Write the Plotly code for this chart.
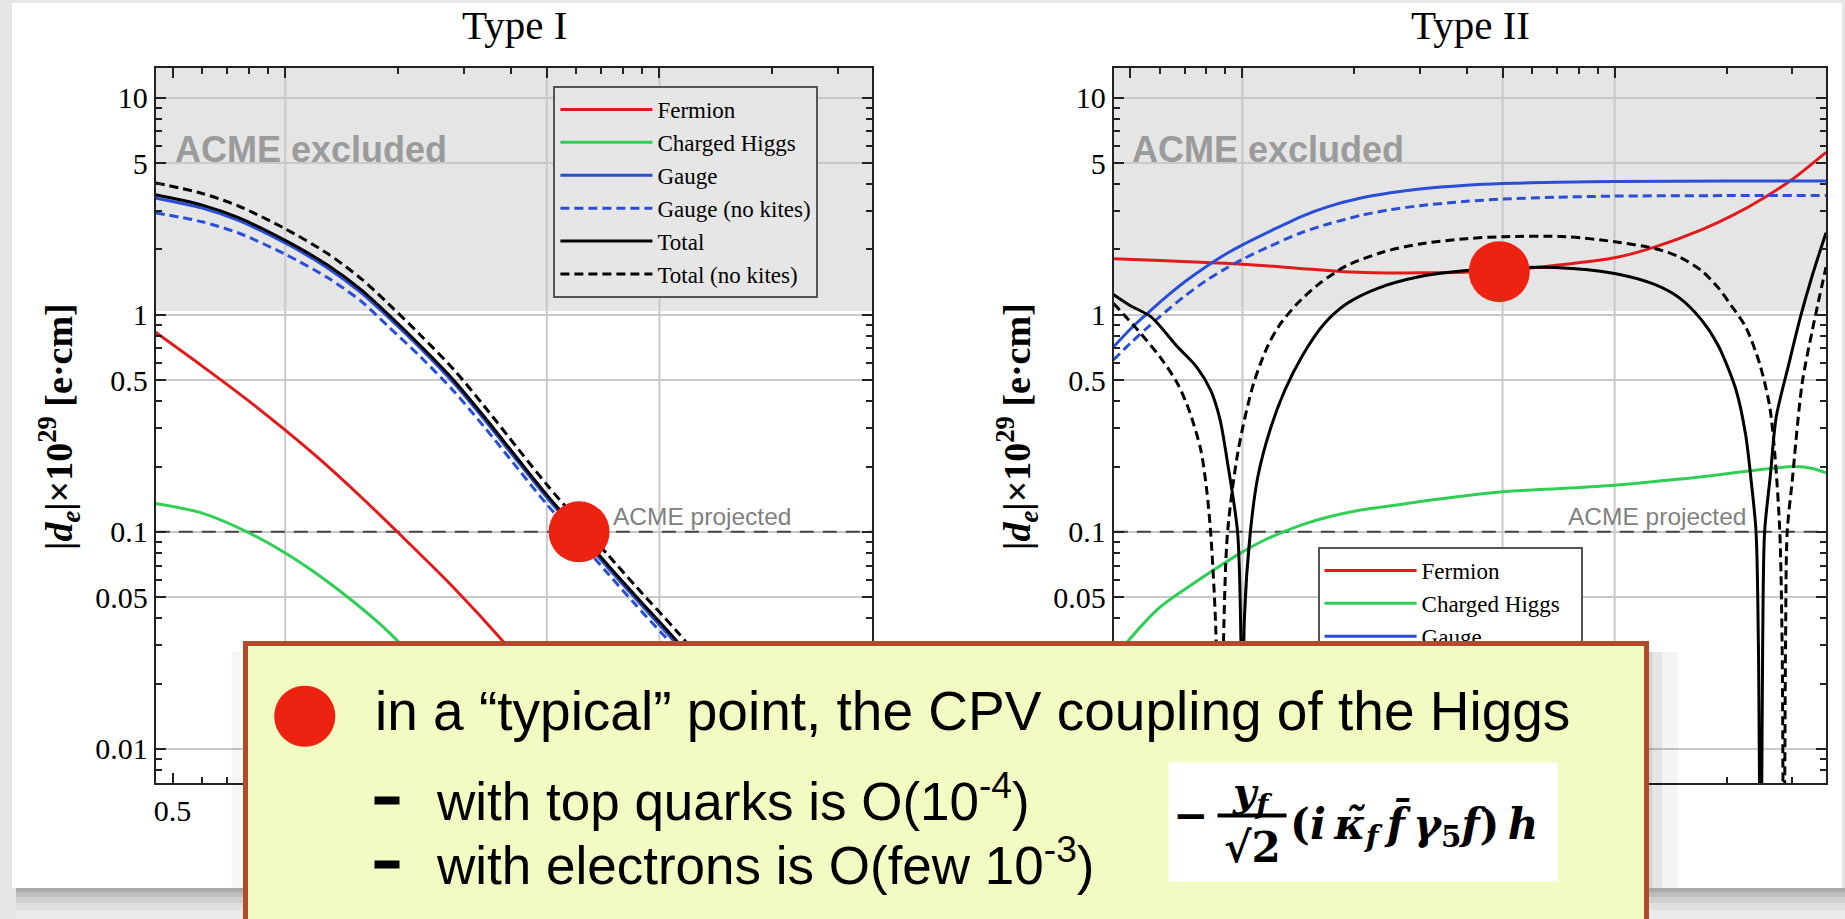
import numpy as np
import plotly.graph_objects as go

W, H = 1845, 919

# ---------------- data ----------------
# Type I
T1_X_TOTAL = [0.45, 0.6, 0.75, 1.0, 1.3, 1.6, 1.89, 2.3, 2.82, 3.4, 4.2, 5.0, 6.1, 7.3, 8.7, 11.2, 15, 20, 27, 37]
T1_TOTAL = [3.57, 3.2, 2.8, 2.2, 1.69, 1.3, 1.0, 0.72, 0.5, 0.34, 0.215, 0.148, 0.1, 0.07, 0.05, 0.031, 0.017, 0.0096, 0.0053, 0.0028]
T1_TOTAL_NOKITES = [4.05, 3.62, 3.17, 2.49, 1.91, 1.46, 1.12, 0.805, 0.56, 0.38, 0.24, 0.165, 0.111, 0.078, 0.0555, 0.0344, 0.0189, 0.0106, 0.0059, 0.0031]
T1_GAUGE = [3.45, 3.1, 2.72, 2.14, 1.64, 1.26, 0.97, 0.70, 0.485, 0.33, 0.209, 0.144, 0.097, 0.068, 0.0485, 0.030, 0.0165, 0.0093, 0.0051, 0.0027]
T1_GAUGE_NOKITES = [2.95, 2.68, 2.38, 1.9, 1.48, 1.15, 0.88, 0.64, 0.445, 0.305, 0.194, 0.134, 0.091, 0.064, 0.0455, 0.0283, 0.0156, 0.0088, 0.0048, 0.0026]
T1_X_FERMION = [0.45, 0.6, 0.8, 1.0, 1.26, 1.6, 2.03, 2.8, 3.84, 5.0, 7.0, 9.0]
T1_FERMION = [0.83, 0.58, 0.40, 0.294, 0.21, 0.144, 0.097, 0.056, 0.031, 0.018, 0.0093, 0.0055]
T1_X_CHARGED = [0.45, 0.6, 0.79, 1.0, 1.2, 1.47, 1.75, 2.03, 2.5, 3.0, 3.6]
T1_CHARGED = [0.135, 0.122, 0.10, 0.08, 0.065, 0.05, 0.039, 0.0305, 0.019, 0.011, 0.0062]
T1_POINT_X = [6.1]
T1_POINT_Y = [0.1]

# Type II
T2_X_FERMION = [0.45, 0.6, 0.8, 1.0, 1.4, 1.87, 3.0, 5.0, 7.4, 10, 12.8, 17.1, 21, 25.5, 30, 37]
T2_FERMION = [1.81, 1.78, 1.74, 1.71, 1.64, 1.58, 1.56, 1.6, 1.71, 1.83, 2.05, 2.46, 2.9, 3.5, 4.2, 5.6]
T2_X_CHARGED = [0.45, 0.49, 0.6, 0.74, 0.99, 1.15, 1.29, 1.45, 1.7, 2.08, 2.6, 3.0, 5.0, 7.0, 10, 15, 22, 27, 30.5, 34, 37]
T2_CHARGED = [0.025, 0.031, 0.045, 0.058, 0.08, 0.092, 0.1, 0.108, 0.117, 0.126, 0.133, 0.138, 0.153, 0.158, 0.164, 0.175, 0.189, 0.197, 0.2, 0.196, 0.187]
T2_X_GAUGE = [0.45, 0.5, 0.55, 0.62, 0.7, 0.8, 0.9, 1.0, 1.2, 1.45, 1.7, 2.08, 2.5, 3.0, 4.0, 5.0, 7.0, 10, 20, 37]
T2_GAUGE = [0.71, 0.86, 1.0, 1.2, 1.42, 1.67, 1.9, 2.1, 2.45, 2.85, 3.15, 3.45, 3.65, 3.8, 3.95, 4.02, 4.08, 4.11, 4.13, 4.13]
T2_X_GAUGE_NK = [0.45, 0.5, 0.55, 0.62, 0.7, 0.8, 0.9, 1.0, 1.17, 1.45, 1.7, 2.08, 2.5, 3.0, 4.0, 5.0, 7.0, 10, 20, 37]
T2_GAUGE_NOKITES = [0.62, 0.74, 0.86, 1.03, 1.22, 1.44, 1.63, 1.8, 2.05, 2.4, 2.62, 2.87, 3.05, 3.18, 3.33, 3.41, 3.48, 3.52, 3.54, 3.54]
T2_X_TOTAL = [0.45, 0.5, 0.567, 0.67, 0.75, 0.821, 0.87, 0.911, 0.97, 0.99, 1.0, 1.012, 1.05, 1.1, 1.19,
              1.3, 1.45, 1.65, 1.9, 2.3, 3.0, 4.0, 5.0, 6.9, 10, 12.8, 14.9, 17.1, 19.0, 21.2, 22.5, 23.3,
              24.0, 24.35, 24.7, 25.0, 25.3, 26.2, 27.2, 29.3, 31.6, 34, 37]
T2_TOTAL = [1.24, 1.1, 0.98, 0.71, 0.58, 0.45, 0.33, 0.21, 0.1, 0.033, 0.0015, 0.04, 0.1, 0.18, 0.3,
            0.45, 0.65, 0.9, 1.12, 1.32, 1.5, 1.6, 1.64, 1.65, 1.55, 1.38, 1.2, 0.95, 0.72, 0.45, 0.28, 0.17,
            0.1, 0.03, 0.0015, 0.03, 0.1, 0.18, 0.34, 0.58, 0.98, 1.52, 2.39]
T2_X_TOTAL_NK = [0.45, 0.523, 0.6, 0.67, 0.72, 0.772, 0.80, 0.821, 0.848, 0.868, 0.889, 0.912, 0.975,
                 1.07, 1.17, 1.26, 1.4, 1.6, 1.9, 2.4, 3.0, 4.0, 5.0, 7.4, 10, 12.8, 14.9, 17.1, 19.0,
                 20.6, 22.5, 24.5, 26.1, 27.0, 27.8, 28.2, 28.5, 28.8, 29.1, 30.0, 31.9, 34, 37]
T2_TOTAL_NOKITES = [1.13, 0.85, 0.64, 0.48, 0.36, 0.24, 0.16, 0.1, 0.035, 0.0015, 0.031, 0.1, 0.24,
                    0.48, 0.72, 0.9, 1.12, 1.38, 1.68, 1.95, 2.12, 2.24, 2.29, 2.29, 2.17, 2.02, 1.85, 1.6, 1.33,
                    1.1, 0.88, 0.6, 0.38, 0.22, 0.1, 0.03, 0.0015, 0.03, 0.1, 0.17, 0.48, 0.85, 1.66]
T2_POINT_X = [4.9]
T2_POINT_Y = [1.58]

# axes / labels
X_RANGE = [0.451, 37.0]
Y_RANGE = [0.00697, 13.7]
X_TICKS = [0.5, 1, 5, 10]
X_TICK_TEXT = ["0.5", "1", "5", "10"]
X_MINOR = [0.6, 0.7, 0.8, 0.9, 2, 3, 4, 6, 7, 8, 9, 20, 30]
X_GRID = [1, 5, 10]
Y_TICKS = [0.01, 0.05, 0.1, 0.5, 1, 5, 10]
Y_TICK_TEXT = ["0.01", "0.05", "0.1", "0.5", "1", "5", "10"]
Y_MINOR = [0.008, 0.009, 0.02, 0.03, 0.04, 0.06, 0.07, 0.08, 0.09, 0.2, 0.3, 0.4, 0.6, 0.7, 0.8, 0.9,
           2, 3, 4, 6, 7, 8, 9]
ACME_EXCLUDED_FROM = 1.04
ACME_PROJECTED = 0.1

RED, GREEN, BLUE, BLACK = "#e31a1c", "#2fcf55", "#2a4fd6", "#000000"
DOT = "#ee2211"
SERIF = "Liberation Serif"
SANS = "Liberation Sans"
MATH = "DejaVu Serif"

fig = go.Figure()

# ACME projected reference lines (drawn first, under the curves)
for xa, ya in [("x", "y"), ("x2", "y2")]:
    fig.add_trace(go.Scatter(x=X_RANGE, y=[ACME_PROJECTED, ACME_PROJECTED], mode="lines",
                             showlegend=False, hoverinfo="skip", xaxis=xa, yaxis=ya,
                             line=dict(color="#444444", width=2, dash="14px,9px")))


def curve(x, y, name, color, dash, rank, xa, ya, leg):
    fig.add_trace(go.Scatter(x=x, y=y, mode="lines", name=name,
                             line=dict(color=color, width=3, dash=dash, shape="spline", smoothing=0.8),
                             legendrank=rank, xaxis=xa, yaxis=ya, legend=leg,
                             hoverinfo="skip"))


DASH = "9px,5px"
for xa, ya, leg, d in [
    ("x", "y", "legend", dict(
        fer=(T1_X_FERMION, T1_FERMION), ch=(T1_X_CHARGED, T1_CHARGED),
        ga=(T1_X_TOTAL, T1_GAUGE), gank=(T1_X_TOTAL, T1_GAUGE_NOKITES),
        tot=(T1_X_TOTAL, T1_TOTAL), totnk=(T1_X_TOTAL, T1_TOTAL_NOKITES))),
    ("x2", "y2", "legend2", dict(
        fer=(T2_X_FERMION, T2_FERMION), ch=(T2_X_CHARGED, T2_CHARGED),
        ga=(T2_X_GAUGE, T2_GAUGE), gank=(T2_X_GAUGE_NK, T2_GAUGE_NOKITES),
        tot=(T2_X_TOTAL, T2_TOTAL), totnk=(T2_X_TOTAL_NK, T2_TOTAL_NOKITES))),
]:
    curve(*d["ch"], "Charged Higgs", GREEN, "solid", 2, xa, ya, leg)
    curve(*d["fer"], "Fermion", RED, "solid", 1, xa, ya, leg)
    curve(*d["gank"], "Gauge (no kites)", BLUE, DASH, 4, xa, ya, leg)
    curve(*d["ga"], "Gauge", BLUE, "solid", 3, xa, ya, leg)
    curve(*d["totnk"], "Total (no kites)", BLACK, DASH, 6, xa, ya, leg)
    curve(*d["tot"], "Total", BLACK, "solid", 5, xa, ya, leg)

for px_, py_, xa, ya in [(T1_POINT_X, T1_POINT_Y, "x", "y"), (T2_POINT_X, T2_POINT_Y, "x2", "y2")]:
    fig.add_trace(go.Scatter(x=px_, y=py_, mode="markers", showlegend=False, hoverinfo="skip",
                             marker=dict(size=61, color=DOT, line=dict(width=0)),
                             xaxis=xa, yaxis=ya))

AX = "#222222"
xcommon = dict(type="log", range=[np.log10(X_RANGE[0]), np.log10(X_RANGE[1])],
               tickmode="array", tickvals=X_TICKS, ticktext=X_TICK_TEXT,
               ticks="inside", ticklen=10, tickwidth=2, tickcolor=AX,
               showline=True, linecolor=AX, linewidth=2, mirror="allticks",
               showgrid=False, zeroline=False,
               tickfont=dict(family=SERIF, size=30, color="black"),
               minor=dict(tickmode="array", tickvals=X_MINOR, ticks="inside", ticklen=6,
                          tickwidth=1.5, tickcolor=AX, showgrid=False))
ycommon = dict(type="log", range=[np.log10(Y_RANGE[0]), np.log10(Y_RANGE[1])],
               tickmode="array", tickvals=Y_TICKS, ticktext=Y_TICK_TEXT,
               ticks="inside", ticklen=10, tickwidth=2, tickcolor=AX,
               showline=True, linecolor=AX, linewidth=2, mirror="allticks",
               showgrid=True, gridcolor="#c9c9c9", gridwidth=2, zeroline=False,
               tickfont=dict(family=SERIF, size=30, color="black"),
               minor=dict(tickmode="array", tickvals=Y_MINOR, ticks="inside", ticklen=6,
                          tickwidth=1.5, tickcolor=AX, showgrid=False))

TOP, BOT = 68, 783
shapes = []


def prect(x0, y0, x1, y1, color, layer="below", opacity=1.0):
    shapes.append(dict(type="rect", xref="paper", yref="paper", x0=x0 / W, x1=x1 / W,
                       y0=1 - y1 / H, y1=1 - y0 / H, fillcolor=color, line=dict(width=0),
                       layer=layer, opacity=opacity))


# slide card + its shadow
prect(10, 3, 1842, 888, "white")
for (a, b, c) in [(888, 892, "#a9a9a9"), (892, 897, "#bdbdbd"), (897, 903, "#d0d0d0"),
                  (903, 910, "#dfdfdf"), (910, 919, "#ebebeb")]:
    prect(14, a, 1845, b, c)

for xr, yr in [("x", "y"), ("x2", "y2")]:
    shapes.append(dict(type="rect", xref=f"{xr} domain", yref=yr, x0=0, x1=1,
                       y0=ACME_EXCLUDED_FROM, y1=Y_RANGE[1], fillcolor="#e5e5e5",
                       line=dict(width=0), layer="below"))
    for g in X_GRID:
        shapes.append(dict(type="line", xref=xr, yref=f"{yr} domain", x0=g, x1=g, y0=0, y1=1,
                           line=dict(color="#c9c9c9", width=2), layer="below"))

# shadow of the call-out box
for (a, b, op) in [(1644, 1652, 0.18), (1652, 1662, 0.10), (1662, 1678, 0.045)]:
    prect(a, 652, b, 888, "black", layer="above", opacity=op)
prect(230, 652, 238, 888, "black", layer="above", opacity=0.04)

ann = []


def A(text, x, y, size, family=SERIF, color="black", xanchor="center", yanchor="middle", **kw):
    ann.append(dict(text=text, x=x / W, y=1 - y / H, xref="paper", yref="paper", showarrow=False,
                    font=dict(family=family, size=size, color=color),
                    xanchor=xanchor, yanchor=yanchor, **kw))


A("Type I", 513, 25, 41)
A("Type II", 1470, 25, 41)
YT = "<b>|<i>d</i><sub><i>e</i></sub>|×10<sup>29</sup> [e·cm]</b>"
A(YT, 57, 426, 38, textangle=-90)
A(YT, 1016, 426, 38, textangle=-90)

for xr, yr in [("x", "y"), ("x2", "y2")]:
    ann.append(dict(text="<b>ACME excluded</b>", xref=xr, yref=yr, x=np.log10(0.5), y=np.log10(5.76),
                    xanchor="left", yanchor="middle", showarrow=False,
                    font=dict(family=SANS, size=36, color="#9b9b9b")))
    ann.append(dict(text="ACME projected", xref=xr, yref=yr, x=np.log10(22.8),
                    y=np.log10(ACME_PROJECTED), xanchor="right", yanchor="bottom", showarrow=False,
                    font=dict(family=SANS, size=24.5, color="#808080")))

# call-out box (annotation so that it covers everything below it)
A(" ", 241, 641, 10, xanchor="left", yanchor="top", width=1396, height=330,
  bgcolor="#f4fbc2", bordercolor="#b34a2e", borderwidth=5, borderpad=0)
A("●", 303, 709, 80, family="DejaVu Sans", color=DOT)
A("in a “typical” point, the CPV coupling of the Higgs", 371, 711, 55, family=SANS, xanchor="left")
A(" ", 385, 800, 4, width=24, height=7, bgcolor="black", borderpad=0)
A(" ", 385, 864, 4, width=24, height=7, bgcolor="black", borderpad=0)
A("with top quarks is O(10<sup>-4</sup>)", 432, 797, 53, family=SANS, xanchor="left")
A("with electrons is O(few 10<sup>-3</sup>)", 432, 861, 53, family=SANS, xanchor="left")

# formula  -y_f/sqrt2 (i kappa~_f fbar gamma5 f) h
TS = "\u2009"
A(" ", 1167, 762, 4, xanchor="left", yanchor="top", width=388, height=118, bgcolor="white", borderpad=0)
A("<b>−</b>", 1190, 815, 42, family=MATH)
A("<b><i>y</i></b><sub><b><i>f</i></b></sub>", 1252, 794, 40, family=MATH)
A(" ", 1251, 815, 2, width=68, height=3, bgcolor="black", borderpad=0)
A("<b>√2</b>", 1252, 847, 42, family=MATH)
A(f"<b>(<i>i{TS}κ̃</i><sub><i>f</i></sub>{TS}<i>f̄{TS}γ</i><sub>5</sub><i>f</i>){TS}<i>h</i></b>", 1287, 826, 42,
  family=MATH, xanchor="left")

legend_common = dict(xanchor="left", yanchor="top", bordercolor="#555555", borderwidth=2,
                     font=dict(family=SERIF, size=23, color="black"), itemwidth=92,
                     tracegroupgap=0, traceorder="normal")

fig.update_layout(
    width=W, height=H, margin=dict(l=0, r=0, t=0, b=0),
    paper_bgcolor="#e6e6e6", plot_bgcolor="white",
    xaxis=dict(domain=[154 / W, 871 / W], anchor="y", **xcommon),
    yaxis=dict(domain=[1 - BOT / H, 1 - TOP / H], anchor="x", **ycommon),
    xaxis2=dict(domain=[1113 / W, 1826 / W], anchor="y2", **xcommon),
    yaxis2=dict(domain=[1 - BOT / H, 1 - TOP / H], anchor="x2", **ycommon),
    legend=dict(x=552 / W, y=1 - 86 / H, bgcolor="#e6e6e6", **legend_common),
    legend2=dict(x=1317 / W, y=1 - 547 / H, bgcolor="white", **legend_common),
    shapes=shapes, annotations=ann, showlegend=True,
)

fig.write_html("out.html", config={"displayModeBar": False})
